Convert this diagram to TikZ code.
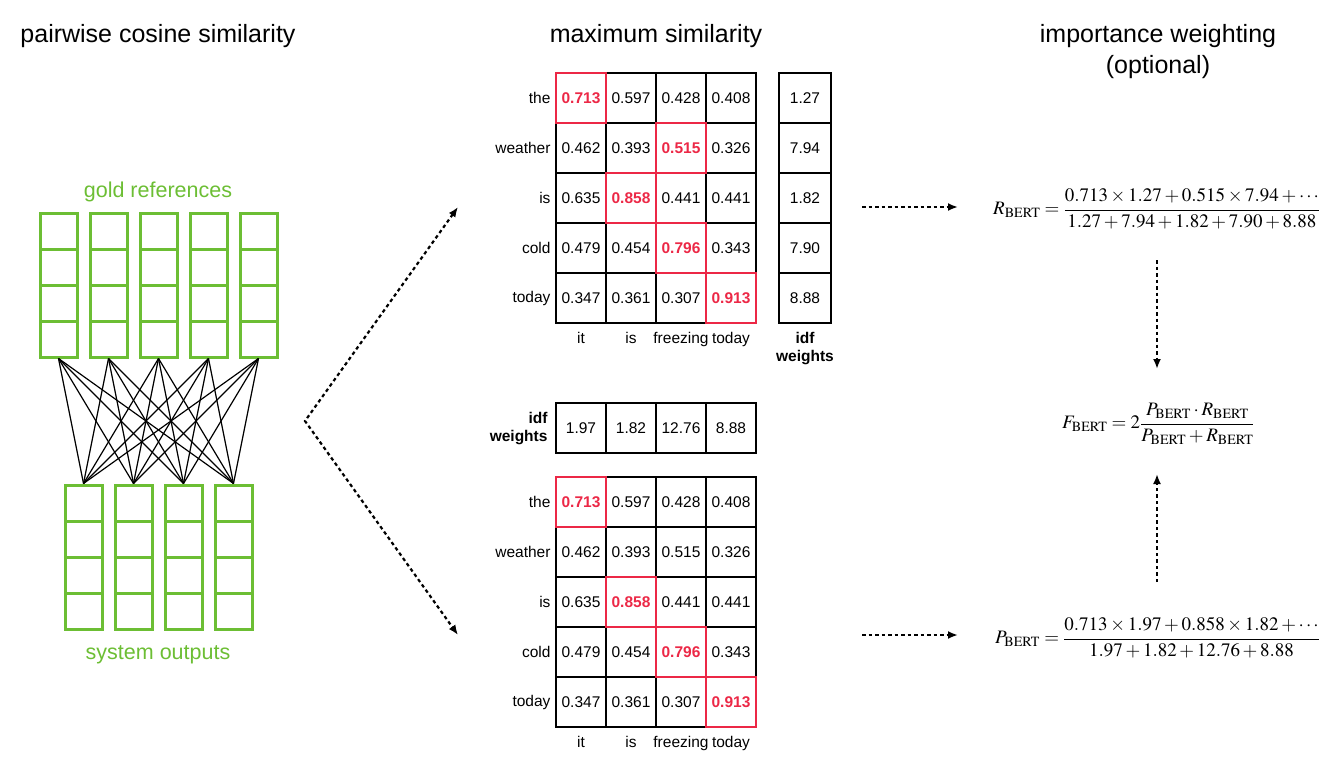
\documentclass[tikz,border=0pt]{standalone}
\usepackage{amsmath}
\usepackage{mathptmx}
\usepackage[no-math]{fontspec}
\setmainfont{Liberation Sans}
\usepackage{tikz}
\usetikzlibrary{arrows.meta,positioning,calc}
\definecolor{leaf}{RGB}{108,190,52}
\definecolor{hot}{RGB}{236,40,70}
\tikzstyle{title}=[font=\fontsize{25}{30}\selectfont,anchor=base]
\tikzstyle{leaflabel}=[text=leaf,font=\fontsize{21.5}{26}\selectfont,anchor=base]
\tikzstyle{vec}=[draw=leaf,line width=3pt,minimum width=37pt,minimum height=36pt,inner sep=0pt]
\tikzstyle{wire}=[line width=1.2pt]
\tikzstyle{cell}=[draw,line width=1.8pt,minimum size=50pt,inner sep=0pt,outer sep=0pt,font=\fontsize{15.5}{18}\selectfont]
\tikzstyle{hotbox}=[draw=hot,line width=1.8pt]
\tikzstyle{lab}=[font=\fontsize{15.5}{18}\selectfont]
\tikzstyle{flow}=[line width=2.2pt,dash pattern=on 3.5pt off 3pt,-{Latex[length=10pt,width=8pt]}]
\tikzstyle{formula}=[inner sep=0pt,font=\fontsize{19}{24}\selectfont]
\newcommand{\hi}[1]{\textcolor{hot}{\textbf{#1}}}
\newcommand{\bert}{_{\mathrm{BERT}}}

\begin{document}
\begin{tikzpicture}[x=1pt,y=-1pt]
\useasboundingbox (0,0) rectangle (1335,757);

% titles
\node[title] (t-pair) at (158,43) {pairwise cosine similarity};
\node[title] (t-max) at (656,43) {maximum similarity};
\node[title] (t-imp) at (1158,43) {importance weighting};
\node[title] (t-opt) at (1158,74) {(optional)};

% embeddings
\foreach \i in {1,...,5}
  \foreach \j in {1,...,4}
    \node[vec] (g\i-\j) at ({8.5+50*\i},{195+36*\j}) {};
\foreach \i in {1,...,4}
  \foreach \j in {1,...,4}
    \node[vec] (s\i-\j) at ({33.5+50*\i},{467+36*\j}) {};
\foreach \i in {1,...,5}
  \foreach \j in {1,...,4}
    \draw[wire] (g\i-4.south) -- (s\j-1.north);
\node[leaflabel] (gold) at (158,197) {gold references};
\node[leaflabel] (sys) at (158,659) {system outputs};

% recall matrix
\foreach \r/\w/\va/\vb/\vc/\vd/\ve in {
    1/the/\hi{0.713}/0.597/0.428/0.408/1.27,
    2/weather/0.462/0.393/\hi{0.515}/0.326/7.94,
    3/is/0.635/\hi{0.858}/0.441/0.441/1.82,
    4/cold/0.479/0.454/\hi{0.796}/0.343/7.90,
    5/today/0.347/0.361/0.307/\hi{0.913}/8.88} {
  \node[cell] (rec-\r-1) at (581,{48+50*\r}) {\va};
  \node[cell] (rec-\r-2) at (631,{48+50*\r}) {\vb};
  \node[cell] (rec-\r-3) at (681,{48+50*\r}) {\vc};
  \node[cell] (rec-\r-4) at (731,{48+50*\r}) {\vd};
  \node[cell,minimum width=52pt] (ridf-\r) at (805,{48+50*\r}) {\ve};
  \node[lab,left=2pt of rec-\r-1] (rw-\r) {\w};
}
\foreach \r/\k in {1/1,2/3,3/2,4/3,5/4}
  \draw[hotbox] (rec-\r-\k.north west) rectangle (rec-\r-\k.south east);
\foreach \k/\w in {1/it,2/is,3/freezing,4/today}
  \node[lab,anchor=base] (rc-\k) at ($(rec-5-\k.south)+(0,20)$) {\w};
\node[lab,align=center,font=\fontsize{15.5}{18}\selectfont\bfseries] (ridf-lab) at (805,349) {idf\\weights};

% precision matrix
\foreach \k/\v in {1/1.97,2/1.82,3/12.76,4/8.88}
  \node[cell] (pidf-\k) at ({531+50*\k},428) {\v};
\node[lab,align=right,anchor=east,font=\fontsize{15.5}{18}\selectfont\bfseries] (pidf-lab) at (551,429) {idf\\weights};
\foreach \r/\w/\va/\vb/\vc/\vd in {
    1/the/\hi{0.713}/0.597/0.428/0.408,
    2/weather/0.462/0.393/0.515/0.326,
    3/is/0.635/\hi{0.858}/0.441/0.441,
    4/cold/0.479/0.454/\hi{0.796}/0.343,
    5/today/0.347/0.361/0.307/\hi{0.913}} {
  \node[cell] (pre-\r-1) at (581,{452+50*\r}) {\va};
  \node[cell] (pre-\r-2) at (631,{452+50*\r}) {\vb};
  \node[cell] (pre-\r-3) at (681,{452+50*\r}) {\vc};
  \node[cell] (pre-\r-4) at (731,{452+50*\r}) {\vd};
  \node[lab,left=2pt of pre-\r-1] (pw-\r) {\w};
}
\foreach \r/\k in {1/1,3/2,4/3,5/4}
  \draw[hotbox] (pre-\r-\k.north west) rectangle (pre-\r-\k.south east);
\foreach \k/\w in {1/it,2/is,3/freezing,4/today}
  \node[lab,anchor=base] (pc-\k) at ($(pre-5-\k.south)+(0,20)$) {\w};

% formulas
\node[formula,anchor=west] (recall) at (993,209)
  {$R\bert = \displaystyle\frac{0.713\times 1.27+0.515\times 7.94+\cdots}{1.27+7.94+1.82+7.90+8.88}$};
\node[formula,anchor=west] (fscore) at (1062,424)
  {$F\bert = 2\displaystyle\frac{P\bert\cdot R\bert}{P\bert+R\bert}$};
\node[formula,anchor=west] (prec) at (995,638)
  {$P\bert = \displaystyle\frac{0.713\times 1.97+0.858\times 1.82+\cdots}{1.97+1.82+12.76+8.88}$};

% arrows
\coordinate (fork) at (305,421);
\coordinate (to-rec) at (458,207);
\coordinate (to-pre) at (458,635);
\draw[flow,{Latex[length=10pt,width=8pt]}-{Latex[length=10pt,width=8pt]}] (to-rec) -- (fork) -- (to-pre);
\coordinate (r-out) at (862,207);
\coordinate (r-in) at (958,207);
\coordinate (p-out) at (862,635);
\coordinate (p-in) at (958,635);
\draw[flow] (r-out) -- (r-in);
\draw[flow] (p-out) -- (p-in);
\coordinate (v1) at (1157,260);
\coordinate (v2) at (1157,369);
\coordinate (v3) at (1157,582);
\coordinate (v4) at (1157,474);
\draw[flow] (v1) -- (v2);
\draw[flow] (v3) -- (v4);
\end{tikzpicture}
\end{document}
